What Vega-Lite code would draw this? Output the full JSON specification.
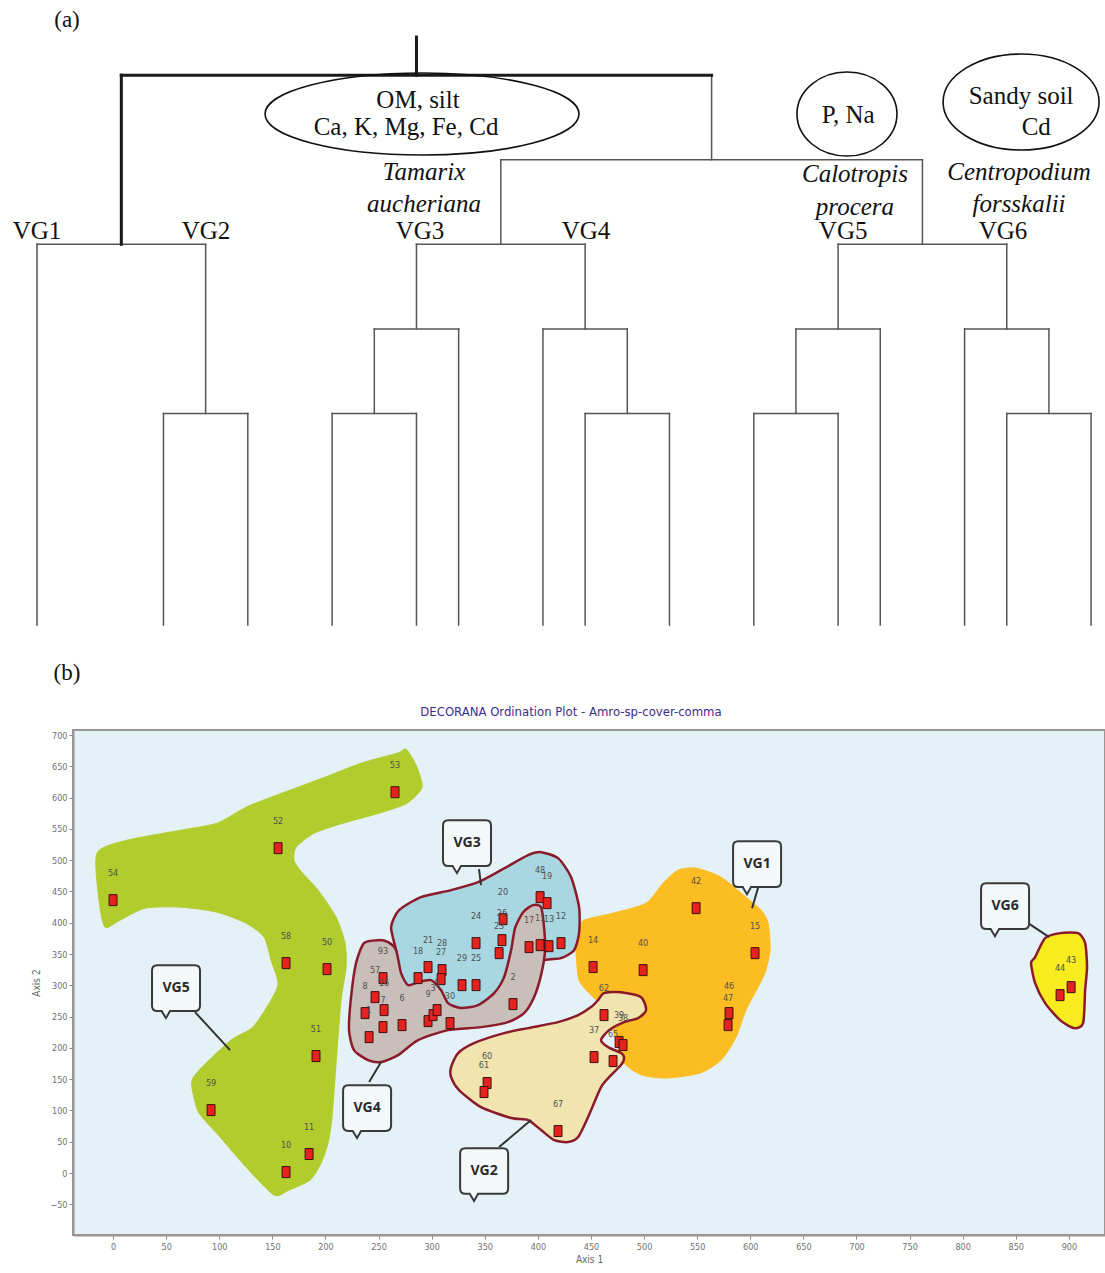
{
  "$schema": "https://vega.github.io/schema/vega-lite/v6.json",
  "padding": 0,
  "spacing": 15,
  "bounds": "full",
  "background": "white",
  "datasets": {
    "dthin": [
      {"x":0,"y":4.5,"x2":4,"y2":4.5},{"x":3,"y":2.5,"x2":5,"y2":2.5},{"x":11,"y":5.5,"x2":21,"y2":5.5},
      {"x":9,"y":4.5,"x2":13,"y2":4.5},{"x":8,"y":3.5,"x2":10,"y2":3.5},{"x":7,"y":2.5,"x2":9,"y2":2.5},
      {"x":12,"y":3.5,"x2":14,"y2":3.5},{"x":13,"y":2.5,"x2":15,"y2":2.5},{"x":19,"y":4.5,"x2":23,"y2":4.5},
      {"x":18,"y":3.5,"x2":20,"y2":3.5},{"x":17,"y":2.5,"x2":19,"y2":2.5},{"x":22,"y":3.5,"x2":24,"y2":3.5},
      {"x":23,"y":2.5,"x2":25,"y2":2.5},
      {"x":0,"y":0,"x2":0,"y2":4.5},{"x":4,"y":2.5,"x2":4,"y2":4.5},{"x":3,"y":0,"x2":3,"y2":2.5},
      {"x":5,"y":0,"x2":5,"y2":2.5},{"x":16,"y":5.5,"x2":16,"y2":6.5},{"x":11,"y":4.5,"x2":11,"y2":5.5},
      {"x":9,"y":3.5,"x2":9,"y2":4.5},{"x":8,"y":2.5,"x2":8,"y2":3.5},{"x":7,"y":0,"x2":7,"y2":2.5},
      {"x":9,"y":0,"x2":9,"y2":2.5},{"x":10,"y":0,"x2":10,"y2":3.5},{"x":13,"y":3.5,"x2":13,"y2":4.5},
      {"x":12,"y":0,"x2":12,"y2":3.5},{"x":14,"y":2.5,"x2":14,"y2":3.5},{"x":13,"y":0,"x2":13,"y2":2.5},
      {"x":15,"y":0,"x2":15,"y2":2.5},{"x":21,"y":4.5,"x2":21,"y2":5.5},{"x":19,"y":3.5,"x2":19,"y2":4.5},
      {"x":18,"y":2.5,"x2":18,"y2":3.5},{"x":17,"y":0,"x2":17,"y2":2.5},{"x":19,"y":0,"x2":19,"y2":2.5},
      {"x":20,"y":0,"x2":20,"y2":3.5},{"x":23,"y":3.5,"x2":23,"y2":4.5},{"x":22,"y":0,"x2":22,"y2":3.5},
      {"x":24,"y":2.5,"x2":24,"y2":3.5},{"x":23,"y":0,"x2":23,"y2":2.5},{"x":25,"y":0,"x2":25,"y2":2.5}
    ],
    "dthick": [
      {"x":2,"y":4.5,"x2":2,"y2":6.5},{"x":2,"y":6.5,"x2":16,"y2":6.5},{"x":9,"y":6.5,"x2":9,"y2":6.95}
    ],
    "ellipses": [
      {"e":"om","x":9.132,"y":6.04},{"e":"pna","x":19.21,"y":6.04},{"e":"sandy","x":23.34,"y":6.182}
    ],
    "vgl": [
      {"t":"VG1","x":0,"y":4.657},{"t":"VG2","x":4.008,"y":4.657},{"t":"VG3","x":9.084,"y":4.657},
      {"t":"VG4","x":13.02,"y":4.657},{"t":"VG5","x":19.12,"y":4.657},{"t":"VG6","x":22.91,"y":4.657}
    ],
    "spp": [
      {"t":"Tamarix","x":9.18,"y":5.355},{"t":"aucheriana","x":9.18,"y":4.976},
      {"t":"Calotropis","x":19.4,"y":5.331},{"t":"procera","x":19.4,"y":4.941},
      {"t":"Centropodium","x":23.29,"y":5.355},{"t":"forsskalii","x":23.29,"y":4.976}
    ],
    "env": [
      {"t":"OM, silt","x":9.037,"y":6.206},{"t":"Ca, K, Mg, Fe, Cd","x":8.752,"y":5.887},
      {"t":"P, Na","x":19.24,"y":6.028},{"t":"Sandy soil","x":23.34,"y":6.253},{"t":"Cd","x":23.7,"y":5.887}
    ],
    "tags": [
      {"t":"(a)","x":0.712,"y":7.151},{"t":"(b)","x":0.712,"y":-0.567}
    ],
    "hulls": [
      {"g":"VG5","x":-15.1,"y":511.2},{"g":"VG5","x":13.2,"y":531.9},{"g":"VG5","x":64.0,"y":547.9},{"g":"VG5","x":97.9,"y":559.1},
      {"g":"VG5","x":125.2,"y":584.6},{"g":"VG5","x":148.8,"y":600.6},{"g":"VG5","x":199.6,"y":632.6},{"g":"VG5","x":233.5,"y":654.9},
      {"g":"VG5","x":267.4,"y":670.9},{"g":"VG5","x":275.9,"y":677.3},{"g":"VG5","x":285.3,"y":651.7},{"g":"VG5","x":291.0,"y":616.6},
      {"g":"VG5","x":276.8,"y":591.0},{"g":"VG5","x":250.5,"y":575.1},{"g":"VG5","x":216.6,"y":559.1},{"g":"VG5","x":189.3,"y":543.1},
      {"g":"VG5","x":172.3,"y":520.8},{"g":"VG5","x":170.4,"y":500.0},{"g":"VG5","x":176.1,"y":484.0},{"g":"VG5","x":193.0,"y":452.1},
      {"g":"VG5","x":210.0,"y":408.9},{"g":"VG5","x":218.5,"y":367.4},{"g":"VG5","x":219.4,"y":329.1},{"g":"VG5","x":214.7,"y":276.4},
      {"g":"VG5","x":210.9,"y":196.5},{"g":"VG5","x":206.2,"y":89.5},{"g":"VG5","x":202.4,"y":47.9},{"g":"VG5","x":195.9,"y":16.0},
      {"g":"VG5","x":185.5,"y":-11.2},{"g":"VG5","x":165.7,"y":-27.2},{"g":"VG5","x":151.6,"y":-35.1},{"g":"VG5","x":125.2,"y":9.6},
      {"g":"VG5","x":100.8,"y":57.5},{"g":"VG5","x":81.0,"y":95.8},{"g":"VG5","x":75.3,"y":127.8},{"g":"VG5","x":74.4,"y":148.6},
      {"g":"VG5","x":83.8,"y":169.3},{"g":"VG5","x":111.1,"y":212.5},{"g":"VG5","x":131.8,"y":233.2},{"g":"VG5","x":148.8,"y":276.4},
      {"g":"VG5","x":155.4,"y":303.5},{"g":"VG5","x":148.8,"y":340.2},{"g":"VG5","x":142.2,"y":377.0},{"g":"VG5","x":125.2,"y":399.4},
      {"g":"VG5","x":97.9,"y":416.9},{"g":"VG5","x":64.0,"y":424.9},{"g":"VG5","x":30.1,"y":423.3},{"g":"VG5","x":6.6,"y":404.1},
      {"g":"VG5","x":-7.5,"y":393.0},{"g":"VG5","x":-13.2,"y":436.1},
      {"g":"VG1","x":443.5,"y":404.1},{"g":"VG1","x":470.8,"y":415.3},{"g":"VG1","x":501.9,"y":431.3},{"g":"VG1","x":517.9,"y":463.2},
      {"g":"VG1","x":532.0,"y":484.0},{"g":"VG1","x":549.0,"y":487.2},{"g":"VG1","x":572.5,"y":472.8},{"g":"VG1","x":596.0,"y":440.9},
      {"g":"VG1","x":610.2,"y":420.1},{"g":"VG1","x":616.8,"y":399.4},{"g":"VG1","x":618.6,"y":356.2},{"g":"VG1","x":613.0,"y":316.3},
      {"g":"VG1","x":596.0,"y":260.4},{"g":"VG1","x":586.6,"y":217.2},{"g":"VG1","x":572.5,"y":180.5},{"g":"VG1","x":552.7,"y":159.7},
      {"g":"VG1","x":521.7,"y":151.8},{"g":"VG1","x":498.1,"y":156.5},{"g":"VG1","x":481.2,"y":175.7},{"g":"VG1","x":473.6,"y":212.5},
      {"g":"VG1","x":464.2,"y":260.4},{"g":"VG1","x":450.1,"y":284.3},{"g":"VG1","x":438.8,"y":308.3},{"g":"VG1","x":436.0,"y":356.2},
      {"g":"VG1","x":437.9,"y":388.2},
      {"g":"VG3","x":266.5,"y":356.2},{"g":"VG3","x":261.8,"y":393.0},{"g":"VG3","x":269.3,"y":420.1},{"g":"VG3","x":290.0,"y":440.9},
      {"g":"VG3","x":318.3,"y":452.1},{"g":"VG3","x":343.7,"y":464.8},{"g":"VG3","x":365.3,"y":484.0},{"g":"VG3","x":390.8,"y":508.0},
      {"g":"VG3","x":403.0,"y":512.8},{"g":"VG3","x":419.0,"y":503.2},{"g":"VG3","x":431.3,"y":472.8},{"g":"VG3","x":438.8,"y":424.9},
      {"g":"VG3","x":438.8,"y":383.4},{"g":"VG3","x":434.1,"y":356.2},{"g":"VG3","x":421.8,"y":343.4},{"g":"VG3","x":401.1,"y":337.1},
      {"g":"VG3","x":391.7,"y":289.1},{"g":"VG3","x":360.6,"y":260.4},{"g":"VG3","x":327.7,"y":252.4},{"g":"VG3","x":299.4,"y":279.5},
      {"g":"VG3","x":275.9,"y":292.3},{"g":"VG3","x":269.3,"y":324.3},
      {"g":"VG4","x":395.5,"y":428.1},{"g":"VG4","x":403.0,"y":424.9},{"g":"VG4","x":405.8,"y":393.0},{"g":"VG4","x":406.8,"y":356.2},
      {"g":"VG4","x":403.0,"y":316.3},{"g":"VG4","x":396.4,"y":281.1},{"g":"VG4","x":387.0,"y":255.6},{"g":"VG4","x":371.9,"y":241.2},
      {"g":"VG4","x":346.5,"y":233.2},{"g":"VG4","x":315.4,"y":228.4},{"g":"VG4","x":287.2,"y":212.5},{"g":"VG4","x":268.4,"y":188.5},
      {"g":"VG4","x":252.4,"y":177.3},{"g":"VG4","x":240.1,"y":180.5},{"g":"VG4","x":226.9,"y":196.5},{"g":"VG4","x":222.2,"y":228.4},
      {"g":"VG4","x":224.1,"y":281.1},{"g":"VG4","x":228.8,"y":335.5},{"g":"VG4","x":236.3,"y":367.4},{"g":"VG4","x":249.5,"y":372.2},
      {"g":"VG4","x":259.0,"y":369.0},{"g":"VG4","x":266.5,"y":356.2},{"g":"VG4","x":271.2,"y":319.5},{"g":"VG4","x":277.8,"y":300.3},
      {"g":"VG4","x":287.2,"y":305.1},{"g":"VG4","x":299.4,"y":308.3},{"g":"VG4","x":308.9,"y":292.3},{"g":"VG4","x":315.4,"y":271.6},
      {"g":"VG4","x":327.7,"y":263.6},{"g":"VG4","x":343.7,"y":268.4},{"g":"VG4","x":358.8,"y":287.5},{"g":"VG4","x":368.2,"y":313.1},
      {"g":"VG4","x":374.8,"y":356.2},{"g":"VG4","x":378.5,"y":391.4},{"g":"VG4","x":386.1,"y":416.9},
      {"g":"VG2","x":318.3,"y":169.3},{"g":"VG2","x":324.9,"y":191.7},{"g":"VG2","x":339.9,"y":207.7},{"g":"VG2","x":368.2,"y":223.6},
      {"g":"VG2","x":390.8,"y":231.6},{"g":"VG2","x":419.0,"y":241.2},{"g":"VG2","x":437.9,"y":252.4},{"g":"VG2","x":450.1,"y":265.2},
      {"g":"VG2","x":456.7,"y":276.4},{"g":"VG2","x":462.3,"y":287.5},{"g":"VG2","x":478.3,"y":289.1},{"g":"VG2","x":497.2,"y":281.1},
      {"g":"VG2","x":501.9,"y":260.4},{"g":"VG2","x":494.4,"y":247.6},{"g":"VG2","x":481.2,"y":241.2},{"g":"VG2","x":467.0,"y":228.4},
      {"g":"VG2","x":459.5,"y":212.5},{"g":"VG2","x":466.1,"y":201.3},{"g":"VG2","x":478.3,"y":191.7},{"g":"VG2","x":481.2,"y":183.7},
      {"g":"VG2","x":478.3,"y":172.5},{"g":"VG2","x":468.9,"y":156.5},{"g":"VG2","x":459.5,"y":137.4},{"g":"VG2","x":447.3,"y":89.5},
      {"g":"VG2","x":437.9,"y":57.5},{"g":"VG2","x":428.4,"y":49.5},{"g":"VG2","x":415.3,"y":52.7},{"g":"VG2","x":403.0,"y":68.7},
      {"g":"VG2","x":390.8,"y":84.7},{"g":"VG2","x":374.8,"y":87.9},{"g":"VG2","x":346.5,"y":105.4},{"g":"VG2","x":325.8,"y":132.6},
      {"g":"VG2","x":318.3,"y":153.4},
      {"g":"VG6","x":868.2,"y":345.0},{"g":"VG6","x":877.6,"y":375.4},{"g":"VG6","x":891.7,"y":383.4},{"g":"VG6","x":908.7,"y":383.4},
      {"g":"VG6","x":915.3,"y":367.4},{"g":"VG6","x":917.1,"y":329.1},{"g":"VG6","x":915.3,"y":292.3},{"g":"VG6","x":913.4,"y":239.6},
      {"g":"VG6","x":904.9,"y":231.6},{"g":"VG6","x":891.7,"y":244.4},{"g":"VG6","x":877.6,"y":271.6},{"g":"VG6","x":868.2,"y":303.5},
      {"g":"VG6","x":864.4,"y":335.5}
    ],
    "pts": [
      {"id":"53","x":265.5,"y":608.6},{"id":"52","x":155.4,"y":519.2},{"id":"54","x":0,"y":436.1},{"id":"58","x":162.9,"y":335.5},
      {"id":"50","x":201.5,"y":325.9},{"id":"51","x":191.1,"y":186.9},{"id":"59","x":92.3,"y":100.6},{"id":"11","x":184.6,"y":30.4},
      {"id":"10","x":162.9,"y":1.6},
      {"id":"48","x":402.1,"y":440.9},{"id":"19","x":408.7,"y":431.3},{"id":"20","x":367.2,"y":405.7},{"id":"24","x":341.8,"y":367.4},
      {"id":"26","x":366.2,"y":372.2},{"id":"23","x":363.5,"y":351.4},{"id":"21","x":296.6,"y":329.1},{"id":"18","x":287.2,"y":311.5},
      {"id":"28","x":309.8,"y":324.3},{"id":"27","x":308.9,"y":309.9},{"id":"29","x":328.6,"y":300.3},{"id":"25","x":341.8,"y":300.3},
      {"id":"17","x":391.7,"y":361.0},{"id":"11","x":402.1,"y":364.2},{"id":"13","x":410.5,"y":362.6},{"id":"12","x":421.8,"y":367.4},
      {"id":"93","x":254.2,"y":311.5},{"id":"57","x":246.7,"y":281.1},{"id":"8","x":237.3,"y":255.6},{"id":"16","x":255.2,"y":260.4},
      {"id":"1","x":241.1,"y":217.2},{"id":"7","x":254.2,"y":233.2},{"id":"6","x":272.1,"y":236.4},{"id":"9","x":296.6,"y":242.8},
      {"id":"3","x":301.3,"y":252.4},{"id":"5","x":305.1,"y":260.4},{"id":"30","x":317.3,"y":239.6},{"id":"2","x":376.6,"y":270.0},
      {"id":"60","x":352.2,"y":143.8},{"id":"61","x":349.3,"y":129.4},{"id":"67","x":419.0,"y":67.1},{"id":"37","x":452.9,"y":185.3},
      {"id":"65","x":470.8,"y":178.9},{"id":"62","x":462.3,"y":252.4},{"id":"39","x":476.5,"y":209.3},{"id":"38","x":480.2,"y":204.5},
      {"id":"42","x":549.0,"y":423.3},{"id":"15","x":604.5,"y":351.4},{"id":"14","x":452.0,"y":329.1},{"id":"40","x":499.1,"y":324.3},
      {"id":"46","x":580.0,"y":255.6},{"id":"47","x":579.1,"y":236.4},
      {"id":"43","x":902.1,"y":297.1},{"id":"44","x":891.7,"y":284.3}
    ],
    "boxes": [
      {"g":"VG3","x":333.3,"y":527.2},{"g":"VG1","x":606.4,"y":493.6},{"g":"VG6","x":839.9,"y":426.5},
      {"g":"VG5","x":59.3,"y":295.5},{"g":"VG4","x":239.2,"y":103.8},{"g":"VG2","x":349.4,"y":3.2}
    ],
    "leaders": [
      {"g":"VG5","x":77.2,"y":257.2,"x2":110.2,"y2":196.5},{"g":"VG4","x":241.1,"y":145.4,"x2":252.4,"y2":177.3},
      {"g":"VG2","x":363.5,"y":41.5,"x2":393.6,"y2":84.7},{"g":"VG3","x":344.6,"y":485.6,"x2":346.5,"y2":460.1},
      {"g":"VG1","x":608.3,"y":461.6,"x2":601.7,"y2":423.3},{"g":"VG6","x":858.8,"y":402.5,"x2":881.4,"y2":377.0}
    ]
  },
  "vconcat": [
    {
      "width": 1032,
      "height": 690,
      "view": {"stroke": null},
      "encoding": {
        "x": {"field": "x", "type": "quantitative", "scale": {"domain": [0.854, 25.33], "nice": false, "zero": false}, "axis": null},
        "y": {"field": "y", "type": "quantitative", "scale": {"domain": [-0.768, 7.388], "nice": false, "zero": false}, "axis": null}
      },
      "layer": [
        {"data": {"name": "dthin"}, "mark": {"type": "rule", "stroke": "#5a5552", "strokeWidth": 1.5, "strokeCap": "square"},
         "encoding": {"x2": {"field": "x2"}, "y2": {"field": "y2"}}},
        {"data": {"name": "dthick"}, "mark": {"type": "rule", "stroke": "#1a1a1a", "strokeWidth": 3, "strokeCap": "square"},
         "encoding": {"x2": {"field": "x2"}, "y2": {"field": "y2"}}},
        {"data": {"name": "ellipses"}, "transform": [{"filter": "datum.e === 'om'"}],
         "mark": {"type": "point", "shape": "M -1 0 A 1 0.261 0 1 1 1 0 A 1 0.261 0 1 1 -1 0 Z", "size": 98596, "filled": false, "stroke": "#111111", "strokeWidth": 1.6, "opacity": 1}},
        {"data": {"name": "ellipses"}, "transform": [{"filter": "datum.e === 'pna'"}],
         "mark": {"type": "point", "shape": "M -1 0 A 1 0.84 0 1 1 1 0 A 1 0.84 0 1 1 -1 0 Z", "size": 10000, "filled": false, "stroke": "#111111", "strokeWidth": 1.6, "opacity": 1}},
        {"data": {"name": "ellipses"}, "transform": [{"filter": "datum.e === 'sandy'"}],
         "mark": {"type": "point", "shape": "M -1 0 A 1 0.615 0 1 1 1 0 A 1 0.615 0 1 1 -1 0 Z", "size": 24336, "filled": false, "stroke": "#111111", "strokeWidth": 1.6, "opacity": 1}},
        {"data": {"name": "vgl"}, "mark": {"type": "text", "font": "Liberation Serif", "fontSize": 25, "align": "center", "baseline": "middle", "fill": "#111111"},
         "encoding": {"text": {"field": "t"}}},
        {"data": {"name": "spp"}, "mark": {"type": "text", "font": "Liberation Serif", "fontStyle": "italic", "fontSize": 25, "align": "center", "baseline": "middle", "fill": "#111111"},
         "encoding": {"text": {"field": "t"}}},
        {"data": {"name": "env"}, "mark": {"type": "text", "font": "Liberation Serif", "fontSize": 25, "align": "center", "baseline": "middle", "fill": "#111111"},
         "encoding": {"text": {"field": "t"}}},
        {"data": {"name": "tags"}, "mark": {"type": "text", "font": "Liberation Serif", "fontSize": 23, "align": "center", "baseline": "middle", "fill": "#111111"},
         "encoding": {"text": {"field": "t"}}}
      ]
    },
    {
      "width": 1032,
      "height": 505,
      "view": {"fill": "#e4f1f7", "stroke": "#9c9593", "strokeWidth": 2},
      "title": {"text": "DECORANA Ordination Plot - Amro-sp-cover-comma", "font": "DejaVu Sans Condensed, Liberation Sans Narrow, sans-serif", "fontSize": 13, "fontWeight": "normal", "color": "#3b2d8c", "offset": 11, "dx": -18},
      "encoding": {
        "x": {"field": "x", "type": "quantitative",
              "scale": {"domain": [-37.7, 934], "nice": false, "zero": false},
              "axis": {"title": "Axis 1", "values": [0,50,100,150,200,250,300,350,400,450,500,550,600,650,700,750,800,850,900],
                       "grid": false, "labelFont": "DejaVu Sans Condensed, Liberation Sans Narrow, sans-serif", "labelFontSize": 9, "labelColor": "#707070",
                       "tickColor": "#8a8a8a", "tickSize": 4, "domainColor": "#9c9593", "domainWidth": 2, "labelPadding": 3,
                       "titleFont": "DejaVu Sans Condensed, Liberation Sans Narrow, sans-serif", "titleFontSize": 10, "titleFontWeight": "normal", "titleColor": "#666666", "titlePadding": 3}},
        "y": {"field": "y", "type": "quantitative",
              "scale": {"domain": [-99, 708], "nice": false, "zero": false},
              "axis": {"title": "Axis 2", "values": [-50,0,50,100,150,200,250,300,350,400,450,500,550,600,650,700],
                       "grid": false, "labelFont": "DejaVu Sans Condensed, Liberation Sans Narrow, sans-serif", "labelFontSize": 9, "labelColor": "#707070",
                       "tickColor": "#8a8a8a", "tickSize": 4, "domainColor": "#9c9593", "domainWidth": 2, "labelPadding": 2,
                       "minExtent": 72, "titleX": -32,
                       "titleFont": "DejaVu Sans Condensed, Liberation Sans Narrow, sans-serif", "titleFontSize": 10, "titleFontWeight": "normal", "titleColor": "#666666"}}
      },
      "layer": [
        {"data": {"name": "hulls"}, "transform": [{"filter": "datum.g === 'VG5'"}],
         "mark": {"type": "line", "interpolate": "cardinal-closed", "tension": 0.3, "fill": "#b2cc2e", "stroke": "#b2cc2e", "strokeWidth": 1},
         "encoding": {"order": {"value": null}}},
        {"data": {"name": "hulls"}, "transform": [{"filter": "datum.g === 'VG1'"}],
         "mark": {"type": "line", "interpolate": "cardinal-closed", "tension": 0.3, "fill": "#fcbd22", "stroke": "#fcbd22", "strokeWidth": 1},
         "encoding": {"order": {"value": null}}},
        {"data": {"name": "hulls"}, "transform": [{"filter": "datum.g === 'VG3'"}],
         "mark": {"type": "line", "interpolate": "cardinal-closed", "tension": 0.3, "fill": "#a8d7e2", "stroke": "#8b1a2b", "strokeWidth": 2.5},
         "encoding": {"order": {"value": null}}},
        {"data": {"name": "hulls"}, "transform": [{"filter": "datum.g === 'VG4'"}],
         "mark": {"type": "line", "interpolate": "cardinal-closed", "tension": 0.3, "fill": "#c9bfba", "stroke": "#8b1a2b", "strokeWidth": 2.5},
         "encoding": {"order": {"value": null}}},
        {"data": {"name": "hulls"}, "transform": [{"filter": "datum.g === 'VG2'"}],
         "mark": {"type": "line", "interpolate": "cardinal-closed", "tension": 0.3, "fill": "#f1e4ae", "stroke": "#8b1a2b", "strokeWidth": 2.5},
         "encoding": {"order": {"value": null}}},
        {"data": {"name": "hulls"}, "transform": [{"filter": "datum.g === 'VG6'"}],
         "mark": {"type": "line", "interpolate": "cardinal-closed", "tension": 0.3, "fill": "#f6ec1e", "stroke": "#8b1a2b", "strokeWidth": 2.5},
         "encoding": {"order": {"value": null}}},
        {"data": {"name": "leaders"}, "mark": {"type": "rule", "stroke": "#333333", "strokeWidth": 2},
         "encoding": {"x2": {"field": "x2"}, "y2": {"field": "y2"}}},
        {"data": {"name": "boxes"},
         "mark": {"type": "point", "shape": "M -0.78 -0.95 L 0.78 -0.95 Q 1 -0.95 1 -0.73 L 1 0.73 Q 1 0.95 0.78 0.95 L -0.25 0.95 L -0.42 1.25 L -0.6 0.95 L -0.78 0.95 Q -1 0.95 -1 0.73 L -1 -0.73 Q -1 -0.95 -0.78 -0.95 Z",
                  "size": 2304, "filled": true, "fill": "#f3f8fa", "stroke": "#3a3a3a", "strokeWidth": 2, "opacity": 1}},
        {"data": {"name": "boxes"},
         "mark": {"type": "text", "font": "Open Sans", "fontWeight": "bold", "fontSize": 14, "fill": "#2a2a2a", "align": "center", "baseline": "middle"},
         "encoding": {"text": {"field": "g"}}},
        {"data": {"name": "pts"},
         "mark": {"type": "point", "shape": "M -0.72 -1 L 0.72 -1 L 0.72 1 L -0.72 1 Z", "size": 121, "filled": true, "fill": "#e5221d", "stroke": "#3c1010", "strokeWidth": 1, "opacity": 1}},
        {"data": {"name": "pts"},
         "mark": {"type": "text", "font": "DejaVu Sans Condensed, Liberation Sans Narrow, sans-serif", "fontSize": 9, "fill": "#505050", "align": "center", "baseline": "middle", "dy": -27},
         "encoding": {"text": {"field": "id"}}}
      ]
    }
  ]
}
